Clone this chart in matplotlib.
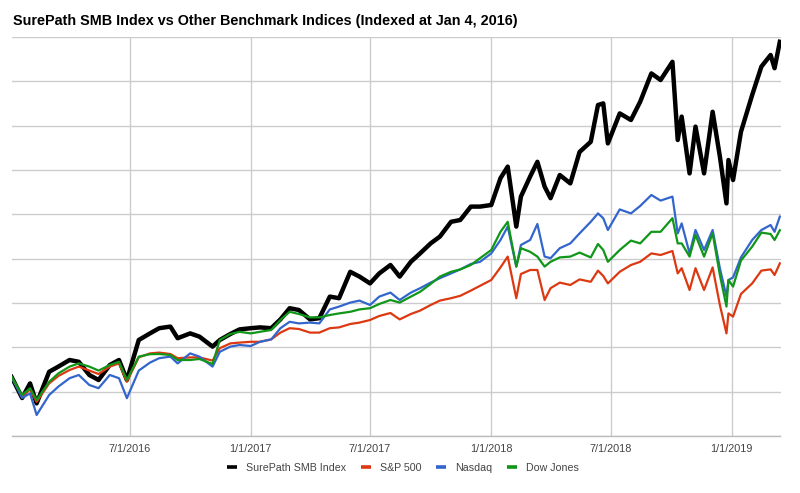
import matplotlib
matplotlib.use("Agg")
import matplotlib.pyplot as plt
from matplotlib.lines import Line2D
import numpy as np
import pandas as pd

plt.rcParams['font.family'] = ['Liberation Sans', 'DejaVu Sans']

dates = ["2016-01-04","2016-01-20","2016-02-01","2016-02-11","2016-03-01","2016-03-15","2016-04-01","2016-04-15",
         "2016-05-01","2016-05-15","2016-06-01","2016-06-15","2016-06-27","2016-07-15","2016-08-01","2016-08-15",
         "2016-09-01","2016-09-12","2016-10-01","2016-10-15","2016-11-04","2016-11-15","2016-12-01","2016-12-15",
         "2017-01-01","2017-01-15","2017-02-01","2017-02-15","2017-03-01","2017-03-15","2017-04-01","2017-04-15",
         "2017-05-01","2017-05-15","2017-06-01","2017-06-15","2017-07-01","2017-07-15","2017-08-01","2017-08-15",
         "2017-09-01","2017-09-15","2017-10-01","2017-10-15","2017-11-01","2017-11-15","2017-12-01","2017-12-15",
         "2018-01-01","2018-01-15","2018-01-26","2018-02-08","2018-02-15","2018-03-01","2018-03-12","2018-03-23",
         "2018-04-01","2018-04-15","2018-05-01","2018-05-15","2018-06-01","2018-06-12","2018-06-20","2018-06-27",
         "2018-07-15","2018-08-01","2018-08-15","2018-09-01","2018-09-15","2018-10-03","2018-10-11","2018-10-17",
         "2018-10-29","2018-11-07","2018-11-20","2018-12-03","2018-12-14","2018-12-24","2018-12-27","2019-01-03",
         "2019-01-15","2019-02-01","2019-02-15","2019-03-01","2019-03-07","2019-03-15"]

surepath = [100, 94.75, 98.4, 93.4, 101.3, 102.6, 104.25, 103.8, 100.5, 99.25, 103, 104.25, 99.25, 109.25, 110.9, 112.2,
            112.6, 109.7, 110.9, 110.1, 107.6, 109.25, 110.75, 111.9, 112.2, 112.4, 112.2, 114.4, 117.2, 116.75, 114.4, 114.7,
            120.1, 119.7, 126.3, 125.1, 123.4, 125.9, 128, 125.1, 128.8, 130.9, 133.4, 135.1, 138.8, 139.25, 142.6, 142.6,
            143, 149.7, 152.6, 137.6, 145.1, 150.1, 153.8, 147.6, 144.7, 150.5, 148.4, 156.25, 158.8, 168, 168.4, 158.4,
            165.9, 164.25, 168.8, 175.9, 174.25, 178.8, 159.25, 165.1, 150.9, 162.6, 150.9, 166.3, 155.1, 143.4, 154.25, 149.25,
            161.3, 170.5, 177.6, 180.5, 177.2, 183.8]

sp500 = [100, 95.1, 96.9, 93.8, 98.4, 100.25, 101.75, 102.6, 101.6, 100.75, 102.6, 103.4, 98.8, 104.9, 105.9, 106.1,
         105.75, 104.7, 104.9, 104.9, 104.1, 107.2, 108.4, 108.6, 108.8, 108.8, 109.4, 111.1, 112.2, 112, 111.1, 111.1,
         112.2, 112.4, 113.25, 113.6, 114.25, 115.25, 116, 114.4, 115.75, 116.6, 118, 119.1, 119.7, 120.3, 121.6, 122.8,
         124.25, 127.4, 130.1, 119.7, 125.75, 126.75, 126.75, 119.25, 122.2, 123.6, 123, 124.4, 123.8, 126.6, 125.25, 123.4,
         126.3, 128, 128.8, 130.9, 130.5, 131.5, 125.9, 127.2, 121.75, 127.2, 121.75, 127.4, 118, 110.9, 115.9, 115.1,
         120.75, 123.4, 126.6, 126.9, 125.5, 128.4]

nasdaq = [100, 94.75, 95.9, 90.5, 95.5, 97.6, 99.7, 100.5, 98, 97.2, 100.5, 99.7, 94.7, 101.6, 103.6, 104.7,
          105.1, 103.4, 105.9, 105.1, 102.6, 106.3, 107.6, 108, 107.75, 108.8, 109.4, 112.2, 113.8, 113.4, 113.6, 113.4,
          116.9, 117.6, 118.6, 119.1, 118, 120.1, 121.1, 119.25, 121.1, 122.2, 123.6, 124.7, 125.9, 126.9, 128.25, 128.8,
          130.9, 134.25, 137.6, 127.6, 133, 134.25, 138.25, 130.1, 129.7, 132.2, 133.4, 135.9, 138.8, 140.9, 139.7, 136.75,
          141.9, 140.9, 142.75, 145.5, 144.1, 145.1, 135.9, 138.4, 130.9, 136.75, 131.75, 136.75, 127.2, 120.1, 124.25, 124.9,
          129.9, 134.25, 136.75, 138, 136.3, 140.1]

dowjones = [100, 95.5, 97.2, 94.25, 98.8, 100.9, 102.6, 103.4, 102.6, 101.6, 103, 103.8, 99.25, 105.1, 105.7, 105.75,
            105.5, 104.25, 104.25, 104.5, 103.25, 109.25, 110.75, 111.3, 110.9, 111.3, 111.75, 114.25, 116.3, 115.75, 114.9, 114.9,
            115.5, 115.9, 116.3, 116.9, 117.2, 118.25, 119.25, 118.6, 120.1, 121.3, 123.25, 125.1, 126.3, 126.9, 128, 129.7,
            131.75, 136.3, 138.8, 127.6, 132.2, 131.3, 130.1, 127.6, 128.8, 129.9, 130.1, 131.1, 129.9, 133.25, 131.75, 128.8,
            131.75, 134.1, 133.4, 136.3, 136.3, 139.7, 133.4, 133.4, 130.1, 135.5, 130.1, 135.9, 125.5, 117.6, 124.25, 122.6,
            129.1, 132.6, 136.1, 135.75, 134.25, 136.7]

series_names = ["SurePath SMB Index", "S&P 500", "Nasdaq", "Dow Jones"]
series_colors = ["#000000", "#dc3912", "#3366cc", "#109618"]
series_widths = [3.2, 1.6, 1.6, 1.6]
tick_dates = ["2016-07-01", "2017-01-01", "2017-07-01", "2018-01-01", "2018-07-01", "2019-01-01"]
tick_labels = ["7/1/2016", "1/1/2017", "7/1/2017", "1/1/2018", "7/1/2018", "1/1/2019"]
title = "SurePath SMB Index vs Other Benchmark Indices (Indexed at Jan 4, 2016)"

x = pd.to_datetime(dates)

W, H = 800, 493
fig = plt.figure(figsize=(W / 100, H / 100), dpi=100)
left_px, right_px, top_px, bot_px = 11.6, 780.5, 37, 436
ax = fig.add_axes([left_px / W, 1 - bot_px / H, (right_px - left_px) / W, (bot_px - top_px) / H])

ymin, ymax = 85.25, 185.0
ax.set_ylim(ymin, ymax)
ax.set_xlim(pd.Timestamp("2016-01-04"), pd.Timestamp("2019-03-16"))

ax.set_yticks(np.linspace(ymin, ymax, 10))
ax.set_yticklabels([])
ax.set_xticks(pd.to_datetime(tick_dates))
ax.set_xticklabels(tick_labels)
ax.tick_params(axis='both', length=0)
ax.tick_params(axis='x', pad=6, labelsize=7.8, labelcolor="#444444")
ax.grid(True, color="#cccccc", linewidth=1.0)
ax.set_axisbelow(True)
for s in ["left", "right", "top"]:
    ax.spines[s].set_visible(False)
ax.spines["bottom"].set_color("#bbbbbb")
ax.spines["bottom"].set_linewidth(1.0)

for vals, name, col, lw in zip([surepath, sp500, nasdaq, dowjones], series_names, series_colors, series_widths):
    ax.plot(x, vals, color=col, linewidth=lw, label=name, solid_joinstyle="round")

fig.text(13 / W, 1 - 21 / H, title, fontsize=10.4, fontweight="bold", color="#000000", ha="left", va="center")

handles = [Line2D([], [], color=c, linewidth=2.6, solid_capstyle="butt") for c in series_colors]
fig.legend(handles, series_names, loc="center", bbox_to_anchor=(403 / W, 1 - 468 / H), ncol=4, frameon=False,
           fontsize=7.7, handlelength=0.94, handletextpad=0.84, columnspacing=1.4, labelcolor="#444444",
           borderpad=0, borderaxespad=0)

fig.savefig("out.png", dpi=100)
